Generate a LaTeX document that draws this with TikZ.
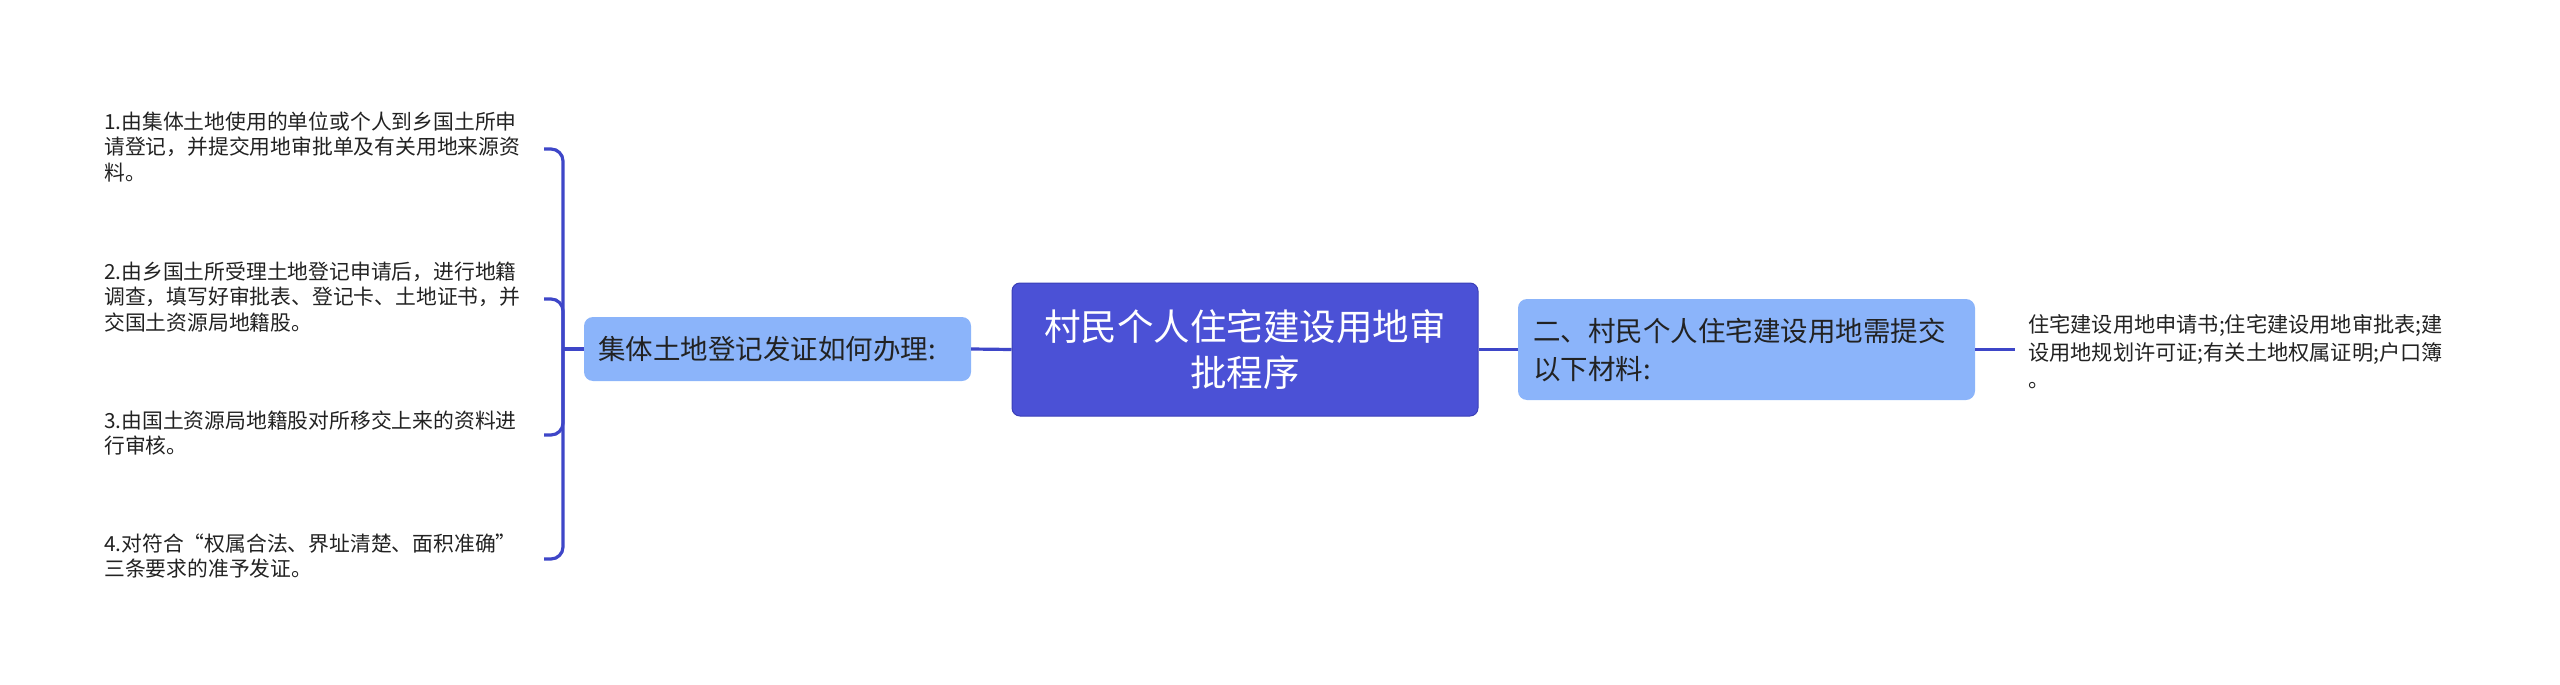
\documentclass[tikz,border=0pt]{standalone}
\usepackage{fontspec}
\setmainfont{Noto Sans CJK SC}
\definecolor{rootfill}{RGB}{75,81,214}
\definecolor{rootdraw}{RGB}{58,63,184}
\definecolor{subfill}{RGB}{139,180,250}
\definecolor{linkcol}{RGB}{62,70,200}
\definecolor{txtdark}{RGB}{34,34,34}
\tikzset{
  rootbox/.style={fill=rootfill,draw=rootdraw,line width=1pt,rounded corners=8pt,
    minimum width=466pt,minimum height=133pt,align=center,text=white,inner sep=0pt,
    font=\fontsize{36.5}{46}\selectfont},
  subbox/.style={fill=subfill,rounded corners=9pt,inner sep=0pt,text=txtdark},
  leaftext/.style={inner sep=0pt,align=left,text=txtdark,font=\fontsize{20.8}{25.8}\selectfont},
  link/.style={draw=linkcol,line width=3.2pt},
  bracket/.style={draw=linkcol,line width=3.2pt,rounded corners=12pt}
}
\begin{document}
\begin{tikzpicture}[x=1pt,y=-1pt]
\useasboundingbox (0,0) rectangle (2560,685);
% root
\node[rootbox] (root) at (1245,349.5) {村民个人住宅建设用地审\\批程序};
% left branch node
\node[subbox,minimum width=387pt,minimum height=64pt,text width=359pt,align=left,inner xsep=14pt,
  font=\fontsize{27.5}{34}\selectfont] (L) at (777.5,349) {集体土地登记发证如何办理:};
% right branch node
\node[subbox,minimum width=457pt,minimum height=101pt,text width=427pt,align=left,
  font=\fontsize{27.5}{38}\selectfont] (R) at (1746.5,349.5) {二、村民个人住宅建设用地需提交\\以下材料:};
% left leaves
\node[leaftext,anchor=west] (i1) at (104,147) {1.由集体土地使用的单位或个人到乡国土所申\\请登记，并提交用地审批单及有关用地来源资\\料。};
\node[leaftext,anchor=west] (i2) at (104,297) {2.由乡国土所受理土地登记申请后，进行地籍\\调查，填写好审批表、登记卡、土地证书，并\\交国土资源局地籍股。};
\node[leaftext,anchor=west] (i3) at (104,433) {3.由国土资源局地籍股对所移交上来的资料进\\行审核。};
\node[leaftext,anchor=west] (i4) at (104,556) {4.对符合“权属合法、界址清楚、面积准确”\\三条要求的准予发证。};
% right leaf
\node[leaftext,anchor=west,font=\fontsize{21.2}{27.5}\selectfont] (r1) at (2028,352) {住宅建设用地申请书;住宅建设用地审批表;建\\设用地规划许可证;有关土地权属证明;户口簿\\。};
% coordinates for connector ends
\coordinate (bk) at (563,349);
\coordinate (tx) at (544,0);
\coordinate (rx) at (2015,0);
% connectors
\draw[link] (root.west) -- (L.east);
\draw[link] (root.east) -- (R.west);
\draw[link] (L.west) -- (bk);
\draw[bracket] (bk) |- ([yshift=-2pt]tx |- i1.center);
\draw[bracket] (bk) |- ([yshift=-2pt]tx |- i2.center);
\draw[bracket] (bk) |- ([yshift=-2pt]tx |- i3.center);
\draw[bracket] (bk) |- ([yshift=-3pt]tx |- i4.center);
\draw[link] (R.east) -- (rx |- R.east);
\end{tikzpicture}
\end{document}
